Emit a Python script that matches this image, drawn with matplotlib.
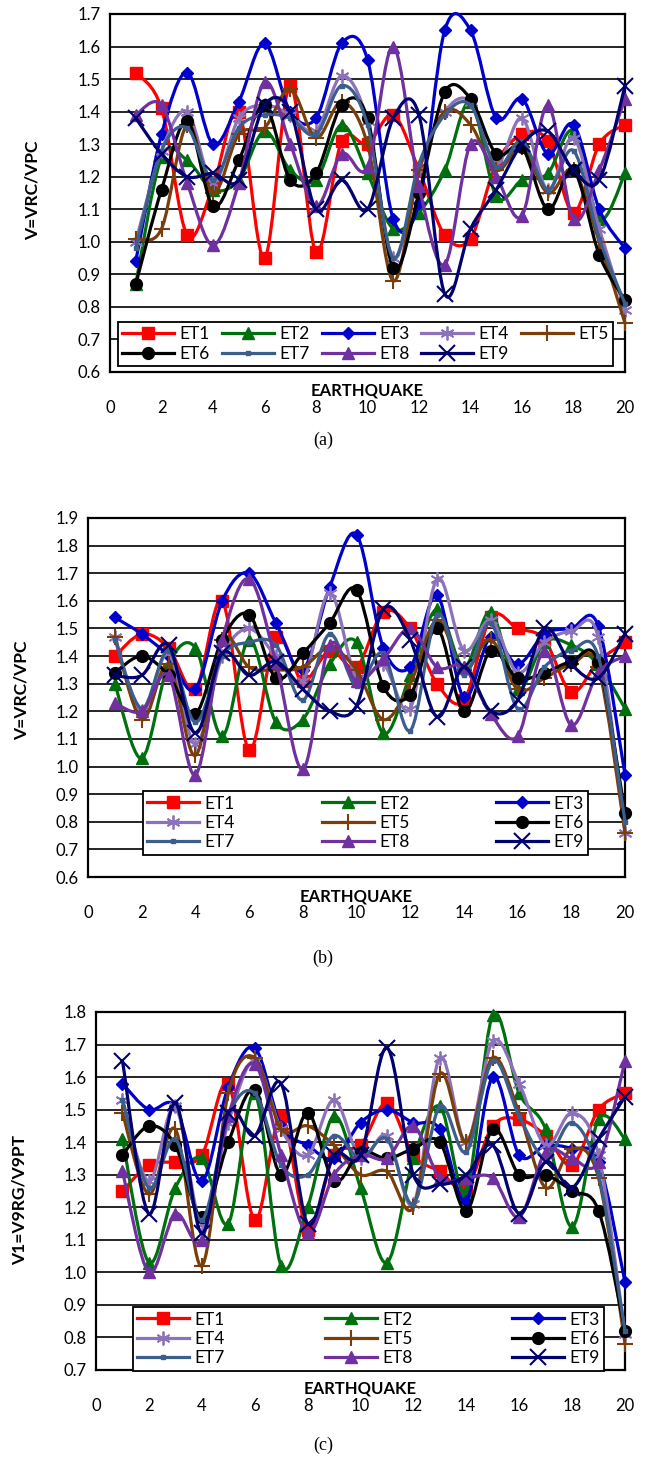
import numpy as np
import matplotlib
matplotlib.use("Agg")
from matplotlib import pyplot as plt
from matplotlib.path import Path
from matplotlib.patches import PathPatch
from matplotlib.lines import Line2D

plt.rcParams['font.family'] = ['Lato', 'DejaVu Sans']

# --- data --- #
earthquake = list(range(1, 21))
series_names = ["ET1", "ET2", "ET3", "ET4", "ET5", "ET6", "ET7", "ET8", "ET9"]

# panel (a): V=VRC/VPC
a_et1 = [1.52, 1.41, 1.02, 1.17, 1.40, 0.95, 1.48, 0.97, 1.31, 1.30, 1.39, 1.22, 1.02, 1.01, 1.24, 1.33, 1.31, 1.09, 1.30, 1.36]
a_et2 = [0.87, 1.26, 1.25, 1.16, 1.19, 1.34, 1.22, 1.19, 1.36, 1.21, 1.04, 1.09, 1.22, 1.43, 1.14, 1.19, 1.21, 1.34, 1.07, 1.21]
a_et3 = [0.94, 1.33, 1.52, 1.30, 1.43, 1.61, 1.40, 1.38, 1.61, 1.56, 1.07, 1.12, 1.65, 1.65, 1.38, 1.44, 1.27, 1.36, 1.10, 0.98]
a_et4 = [1.00, 1.28, 1.40, 1.18, 1.38, 1.42, 1.39, 1.34, 1.51, 1.37, 0.95, 1.22, 1.40, 1.43, 1.24, 1.38, 1.16, 1.32, 1.04, 0.79]
a_et5 = [1.01, 1.04, 1.36, 1.15, 1.33, 1.35, 1.47, 1.32, 1.43, 1.30, 0.88, 1.22, 1.40, 1.36, 1.22, 1.29, 1.15, 1.22, 1.00, 0.75]
a_et6 = [0.87, 1.16, 1.37, 1.11, 1.25, 1.42, 1.19, 1.21, 1.42, 1.38, 0.92, 1.15, 1.46, 1.44, 1.27, 1.29, 1.10, 1.22, 0.96, 0.82]
a_et7 = [0.98, 1.28, 1.35, 1.19, 1.35, 1.39, 1.38, 1.33, 1.48, 1.36, 0.95, 1.24, 1.39, 1.42, 1.23, 1.31, 1.16, 1.28, 1.01, 0.81]
a_et8 = [1.39, 1.42, 1.18, 0.99, 1.18, 1.49, 1.30, 1.11, 1.27, 1.23, 1.60, 1.17, 0.93, 1.30, 1.20, 1.08, 1.42, 1.07, 1.22, 1.44]
a_et9 = [1.38, 1.27, 1.20, 1.21, 1.19, 1.42, 1.40, 1.10, 1.19, 1.10, 1.38, 1.39, 0.84, 1.04, 1.16, 1.30, 1.34, 1.22, 1.19, 1.48]

# panel (b): V=VRC/VPC
b_et1 = [1.40, 1.48, 1.43, 1.28, 1.60, 1.06, 1.47, 1.31, 1.42, 1.36, 1.56, 1.50, 1.30, 1.24, 1.54, 1.50, 1.46, 1.27, 1.38, 1.45]
b_et2 = [1.30, 1.03, 1.37, 1.43, 1.11, 1.46, 1.16, 1.17, 1.37, 1.45, 1.12, 1.33, 1.57, 1.36, 1.56, 1.28, 1.45, 1.44, 1.37, 1.21]
b_et3 = [1.54, 1.48, 1.40, 1.28, 1.60, 1.70, 1.52, 1.35, 1.65, 1.84, 1.43, 1.36, 1.62, 1.25, 1.47, 1.37, 1.48, 1.50, 1.51, 0.97]
b_et4 = [1.47, 1.20, 1.41, 1.08, 1.40, 1.50, 1.40, 1.31, 1.63, 1.32, 1.37, 1.21, 1.68, 1.42, 1.53, 1.34, 1.45, 1.49, 1.47, 0.76]
b_et5 = [1.47, 1.17, 1.37, 1.04, 1.46, 1.36, 1.35, 1.36, 1.43, 1.35, 1.17, 1.30, 1.53, 1.35, 1.46, 1.28, 1.32, 1.37, 1.36, 0.76]
b_et6 = [1.34, 1.40, 1.33, 1.19, 1.46, 1.55, 1.32, 1.41, 1.52, 1.64, 1.29, 1.26, 1.50, 1.20, 1.42, 1.32, 1.34, 1.38, 1.38, 0.83]
b_et7 = [1.46, 1.21, 1.42, 1.16, 1.40, 1.45, 1.44, 1.24, 1.48, 1.29, 1.41, 1.13, 1.55, 1.33, 1.52, 1.21, 1.36, 1.42, 1.40, 0.80]
b_et8 = [1.23, 1.20, 1.33, 0.97, 1.46, 1.68, 1.38, 0.99, 1.44, 1.31, 1.39, 1.50, 1.36, 1.36, 1.19, 1.11, 1.42, 1.15, 1.34, 1.40]
b_et9 = [1.33, 1.33, 1.44, 1.12, 1.41, 1.33, 1.38, 1.28, 1.20, 1.22, 1.57, 1.46, 1.18, 1.36, 1.20, 1.24, 1.50, 1.37, 1.32, 1.48]

# panel (c): V1=V9RG/V9PT
c_et1 = [1.25, 1.33, 1.34, 1.36, 1.58, 1.16, 1.48, 1.13, 1.36, 1.39, 1.52, 1.36, 1.31, 1.26, 1.45, 1.47, 1.42, 1.33, 1.50, 1.55]
c_et2 = [1.41, 1.03, 1.26, 1.35, 1.15, 1.55, 1.02, 1.20, 1.48, 1.26, 1.03, 1.35, 1.51, 1.25, 1.79, 1.55, 1.44, 1.14, 1.47, 1.41]
c_et3 = [1.58, 1.50, 1.51, 1.28, 1.57, 1.69, 1.45, 1.39, 1.35, 1.46, 1.50, 1.46, 1.44, 1.22, 1.60, 1.36, 1.39, 1.38, 1.34, 0.97]
c_et4 = [1.53, 1.28, 1.51, 1.15, 1.46, 1.65, 1.44, 1.36, 1.53, 1.35, 1.42, 1.21, 1.66, 1.40, 1.71, 1.58, 1.39, 1.49, 1.36, 0.81]
c_et5 = [1.49, 1.24, 1.44, 1.02, 1.55, 1.66, 1.44, 1.45, 1.39, 1.30, 1.31, 1.20, 1.61, 1.40, 1.66, 1.49, 1.26, 1.38, 1.29, 0.78]
c_et6 = [1.36, 1.45, 1.39, 1.17, 1.40, 1.56, 1.30, 1.49, 1.28, 1.37, 1.35, 1.38, 1.40, 1.19, 1.44, 1.30, 1.30, 1.25, 1.19, 0.82]
c_et7 = [1.53, 1.26, 1.41, 1.16, 1.48, 1.55, 1.33, 1.30, 1.42, 1.35, 1.41, 1.21, 1.51, 1.37, 1.65, 1.48, 1.35, 1.46, 1.30, 0.82]
c_et8 = [1.31, 1.00, 1.18, 1.10, 1.48, 1.64, 1.36, 1.12, 1.30, 1.36, 1.35, 1.45, 1.29, 1.29, 1.29, 1.17, 1.37, 1.35, 1.34, 1.65]
c_et9 = [1.65, 1.18, 1.52, 1.12, 1.49, 1.42, 1.58, 1.15, 1.36, 1.36, 1.69, 1.30, 1.27, 1.30, 1.39, 1.18, 1.34, 1.26, 1.41, 1.54]

x_ticks = list(range(0, 21, 2))

# --- styles --- #
STYLES = [
    dict(color="#FF0000", marker="s", ms=8, mew=1),
    dict(color="#00700F", marker="^", ms=9, mew=1),
    dict(color="#0000CC", marker="D", ms=6.5, mew=1),
    dict(color="#8C72B8", marker=(6, 2, 0), ms=10, mew=1.3),
    dict(color="#7A3E0A", marker="+", ms=12, mew=1.5),
    dict(color="#000000", marker="o", ms=8.5, mew=1),
    dict(color="#3C5E8C", marker="s", ms=3, mew=1),
    dict(color="#7030A0", marker="^", ms=9, mew=1),
    dict(color="#00006E", marker="x", ms=11, mew=1.5),
]

W, H = 646, 1467


def smooth_path(xs, ys):
    # excel-ish smoothed line: catmull-rom through the points as bezier segments
    pts = np.column_stack([xs, ys]).astype(float)
    n = len(pts)
    verts = [pts[0]]
    codes = [Path.MOVETO]
    for i in range(n - 1):
        p0 = pts[i - 1] if i > 0 else pts[i]
        p1 = pts[i]
        p2 = pts[i + 1]
        p3 = pts[i + 2] if i + 2 < n else pts[i + 1]
        verts += [p1 + (p2 - p0) / 6.0, p2 - (p3 - p1) / 6.0, p2]
        codes += [Path.CURVE4] * 3
    return Path(verts, codes)


def fig_rect(left, top, right, bottom):
    return [left / W, 1 - bottom / H, (right - left) / W, (bottom - top) / H]


def draw_panel(fig, rect, data, ylim, ylabel, ylabel_xy, legend_box, ncol, order):
    ax = fig.add_axes(fig_rect(*rect))
    for values, name, st in zip(data, series_names, STYLES):
        patch = PathPatch(smooth_path(earthquake, values), fill=False,
                          edgecolor=st["color"], lw=2.3, zorder=3, clip_on=False,
                          joinstyle="round", capstyle="round")
        ax.add_patch(patch)
        ax.plot(earthquake, values, ls="none", marker=st["marker"], ms=st["ms"],
                mew=st["mew"], color=st["color"], mfc=st["color"], mec=st["color"],
                zorder=3, clip_on=False)
    ax.set_xlim(0, 20)
    ax.set_ylim(*ylim)
    ax.set_xticks(x_ticks)
    ax.set_yticks(np.round(np.arange(ylim[0], ylim[1] + 0.001, 0.1), 1))
    ax.yaxis.set_major_formatter(matplotlib.ticker.FormatStrFormatter("%.1f"))
    ax.grid(axis="y", color="black", lw=1.2, zorder=0)
    ax.set_axisbelow(True)
    for sp in ax.spines.values():
        sp.set_color("black")
        sp.set_linewidth(1.6)
    ax.tick_params(axis="both", length=0, labelsize=12, colors="black")
    ax.tick_params(axis="x", pad=20)
    ax.tick_params(axis="y", pad=7)

    fig.text(ylabel_xy[0] / W, 1 - ylabel_xy[1] / H, ylabel, rotation=90,
             ha="center", va="center", fontsize=12.5, fontweight="bold")
    cx = (rect[0] + rect[2]) / 2.0
    fig.text(cx / W, 1 - (rect[3] + 19) / H, "EARTHQUAKE", ha="center", va="center",
             fontsize=12, fontweight="bold")

    handles = [Line2D([], [], color=st["color"], lw=2.3, marker=st["marker"], ms=st["ms"],
                      mew=st["mew"], mfc=st["color"], mec=st["color"]) for st in STYLES]
    h = [handles[i] for i in order]
    lab = [series_names[i] for i in order]
    l0, t0, r0, b0 = legend_box
    leg = fig.legend(h, lab, loc="center", ncol=ncol, mode="expand",
                     bbox_to_anchor=(l0 / W, 1 - b0 / H, (r0 - l0) / W, (b0 - t0) / H),
                     frameon=True, fancybox=False, framealpha=1, edgecolor="black",
                     fontsize=12.5, handlelength=3.0, borderaxespad=0, borderpad=0.25,
                     labelspacing=0.2, columnspacing=0.8, handletextpad=0.3)
    leg.get_frame().set_linewidth(1.3)
    leg.set_zorder(10)
    return ax


def main():
    fig = plt.figure(figsize=(W / 100, H / 100), dpi=100)
    fig.patch.set_facecolor("white")

    order_a = [0, 5, 1, 6, 2, 7, 3, 8, 4]
    order_bc = [0, 3, 6, 1, 4, 7, 2, 5, 8]

    draw_panel(fig, (110, 14, 625, 372),
               [a_et1, a_et2, a_et3, a_et4, a_et5, a_et6, a_et7, a_et8, a_et9],
               (0.6, 1.7), "V=VRC/VPC", (33, 190), (118, 318, 613, 370), 5, order_a)
    draw_panel(fig, (88, 518, 625, 877),
               [b_et1, b_et2, b_et3, b_et4, b_et5, b_et6, b_et7, b_et8, b_et9],
               (0.6, 1.9), "V=VRC/VPC", (22, 690), (143, 789, 588, 857), 3, order_bc)
    draw_panel(fig, (96, 1012, 625, 1370),
               [c_et1, c_et2, c_et3, c_et4, c_et5, c_et6, c_et7, c_et8, c_et9],
               (0.7, 1.8), "V1=V9RG/V9PT", (20, 1200), (133, 1308, 604, 1370), 3, order_bc)

    for label, y in [("(a)", 440), ("(b)", 958), ("(c)", 1445)]:
        fig.text(0.5, 1 - y / H, label, ha="center", va="center", fontsize=13,
                 family=["Liberation Serif", "DejaVu Serif"])

    fig.savefig("out.png", dpi=100)


if __name__ == '__main__':
    main()
